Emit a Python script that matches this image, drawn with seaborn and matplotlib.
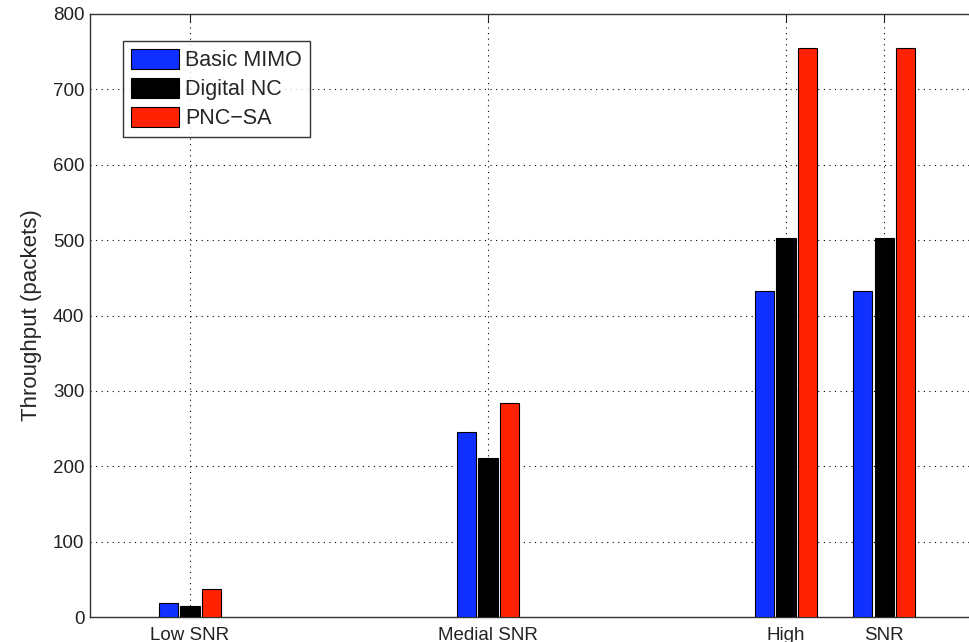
import matplotlib
matplotlib.use("Agg")
import matplotlib.pyplot as plt
import seaborn as sns
import pandas as pd

groups = ["Low SNR", "Medial SNR", "High", "SNR"]
positions = [1.0, 2.0, 3.0, 3.33]
series = ["Basic MIMO", "Digital NC", "PNC\u2212SA"]
basic_mimo = [18, 246, 432, 432]
digital_nc = [15, 211, 503, 503]
pnc_sa = [37, 284, 755, 755]
colors = ["#1030ff", "#000000", "#ff2200"]

rows = []
for name, vals in zip(series, [basic_mimo, digital_nc, pnc_sa]):
    for p, v in zip(positions, vals):
        rows.append({"pos": p, "value": v, "series": name})
df = pd.DataFrame(rows)

sns.set_style("white")
plt.rcParams["font.family"] = ["Liberation Sans", "DejaVu Sans"]

fig = plt.figure(figsize=(9.69, 6.42), dpi=100)
ax = fig.add_axes([90 / 969, 1 - 617 / 642, 1 - 90 / 969, (617 - 14) / 642])

sns.barplot(data=df, x="pos", y="value", hue="series", hue_order=series,
            palette=colors, saturation=1, native_scale=True, width=0.66, gap=0.12,
            edgecolor="black", linewidth=0.8, ax=ax, legend=True, zorder=3)

ax.set_xlim(1 - 100 / 298, 1 + 779 / 298)
ax.set_ylim(0, 800)
ax.set_xticks(positions)
ax.set_xticklabels(groups)
ax.set_yticks(range(0, 801, 100))
ax.set_xlabel("")
ax.set_ylabel("Throughput (packets)", fontsize=16, labelpad=8)

ax.tick_params(axis="both", direction="in", length=6, width=0.8, colors="#222222",
               labelsize=13.5, labelcolor="#222222", top=True, right=False)
ax.tick_params(axis="x", pad=7)
ax.tick_params(axis="y", pad=4)

ax.grid(True, color="black", linestyle=(0, (1, 4)), linewidth=0.8, zorder=0)
ax.set_axisbelow(True)
for s in ["left", "bottom", "top"]:
    ax.spines[s].set_color("#333333")
    ax.spines[s].set_linewidth(1.0)
ax.spines["right"].set_visible(False)

leg = ax.legend(loc="upper left", bbox_to_anchor=(123 / 969, 1 - 41 / 642),
                bbox_transform=fig.transFigure, fontsize=15.5, frameon=True,
                fancybox=False, edgecolor="black", handlelength=2.25, handleheight=1.05,
                labelspacing=0.32, borderpad=0.35, handletextpad=0.3, borderaxespad=0)
leg.get_frame().set_linewidth(1.0)
leg.set_zorder(5)

fig.savefig("out.png", dpi=100)
